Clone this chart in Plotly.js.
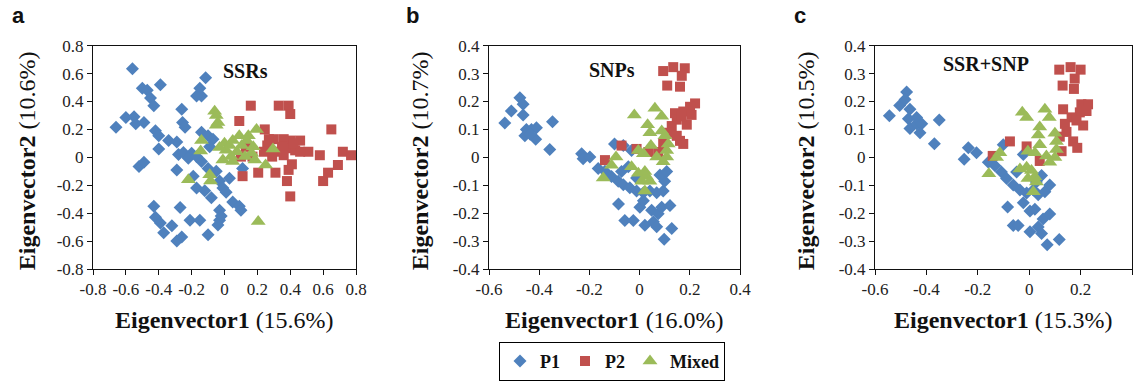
<!DOCTYPE html>
<html><head><meta charset="utf-8">
<script src="https://cdn.plot.ly/plotly-3.0.1.min.js"></script>
<style>html,body{margin:0;padding:0;background:#fff}#chart{width:1143px;height:381px}</style>
</head><body><div id="chart"></div>
<script>
// ---------- Data ----------
const seriesNames = ["P1", "P2", "Mixed"];
const panelTitles = ["SSRs", "SNPs", "SSR+SNP"];
const panelLetters = ["a", "b", "c"];
const xTitlePct = ["(15.6%)", "(16.0%)", "(15.3%)"];
const yTitlePct = ["(10.6%)", "(10.7%)", "(10.5%)"];

// Panel a (SSRs)
const ssrP1x = [-0.56,-0.66,-0.60,-0.55,-0.54,-0.49,-0.50,-0.47,-0.45,-0.43,-0.39,-0.42,-0.40,-0.40,-0.34,-0.52,-0.49,-0.29,-0.28,-0.25,-0.29,-0.26,-0.255,-0.24,-0.20,-0.22,-0.15,-0.14,-0.115,-0.17,-0.14,-0.10,-0.07,-0.09,-0.17,-0.14,-0.10,-0.05,-0.03,-0.01,0.01,0.03,0.05,0.09,0.10,-0.17,-0.12,-0.08,-0.19,0.11,-0.43,-0.42,-0.39,-0.37,-0.32,-0.27,-0.29,-0.26,-0.21,-0.15,-0.10,-0.03,-0.03,-0.02,-0.04];
const ssrP1y = [0.635,0.215,0.285,0.29,0.24,0.25,0.495,0.48,0.425,0.37,0.52,0.19,0.155,0.06,0.12,-0.065,-0.035,0.11,0.02,0.035,-0.09,0.345,0.25,0.215,0.03,-0.007,0.495,0.44,0.57,0.44,0.18,0.155,0.13,0.075,0.005,-0.03,-0.08,-0.10,-0.17,-0.22,-0.25,-0.15,-0.32,-0.35,-0.38,-0.22,-0.24,-0.29,-0.135,-0.08,-0.35,-0.43,-0.47,-0.54,-0.49,-0.36,-0.60,-0.57,-0.45,-0.45,-0.555,-0.38,-0.45,-0.42,-0.485];
const ssrP2x = [0.09,0.16,0.33,0.39,0.40,0.245,0.13,0.11,0.205,0.31,0.39,0.41,0.38,0.40,0.60,0.63,0.69,0.65,0.58,0.51,0.72,0.77,0.46,0.40,0.36,0.30,0.26,0.24,0.33,0.38,0.43,0.46,0.27,0.10,0.17,0.35,0.42,0.29,0.36];
const ssrP2y = [0.26,0.37,0.37,0.37,0.31,0.20,0.075,-0.135,-0.11,-0.11,-0.09,-0.05,-0.17,-0.28,-0.17,-0.11,-0.055,0.20,0.015,0.04,0.04,0.015,0.12,0.12,0.13,0.13,0.085,0.04,0.04,0.065,0.05,0.04,0.13,0.005,0.005,0.075,0.10,0.005,0.015];
const ssrMxx = [-0.06,-0.05,-0.04,-0.05,-0.14,-0.145,-0.22,-0.09,-0.085,0.195,0.295,0.25,0.205,0.0,0.03,0.05,0.09,0.145,0.135,0.175,0.165,0.185,0.105,0.075,0.04,-0.01,0.01,-0.03,0.05,0.125];
const ssrMxy = [0.33,0.30,0.25,0.23,0.12,0.045,-0.16,-0.125,-0.17,0.20,0.06,-0.055,-0.46,0.10,0.085,0.12,0.155,0.155,0.12,0.075,0.03,-0.02,0.085,0.04,0.005,-0.02,0.05,0.07,-0.03,0.005];

// Panel b (SNPs)
const snpP1x = [-0.537,-0.511,-0.477,-0.464,-0.464,-0.451,-0.457,-0.431,-0.411,-0.414,-0.436,-0.347,-0.358,-0.231,-0.225,-0.198,-0.10,-0.065,-0.165,-0.138,-0.112,-0.085,-0.065,-0.039,-0.012,0.015,0.041,0.068,0.094,0.10,0.081,0.108,-0.084,-0.059,-0.025,0.001,0.021,0.055,0.068,0.048,0.074,0.088,0.121,0.128,0.098,0.015,-0.012,-0.032,-0.072,-0.045];
const snpP1y = [0.123,0.166,0.213,0.19,0.152,0.10,0.077,0.10,0.106,0.065,0.083,0.127,0.028,0.013,-0.005,0.001,0.048,0.042,-0.04,-0.05,-0.069,-0.086,-0.098,-0.109,-0.121,-0.127,-0.121,-0.127,-0.121,-0.086,-0.063,-0.051,-0.167,-0.226,-0.226,-0.179,-0.243,-0.231,-0.249,-0.19,-0.202,-0.179,-0.173,-0.255,-0.293,-0.156,-0.074,0.024,-0.051,-0.034];
const snpP2x = [0.094,0.134,0.18,0.168,0.11,0.161,0.221,0.201,0.174,0.141,0.148,0.188,0.128,0.114,0.161,0.174,-0.072,-0.138,-0.012,0.035,0.074,0.148,0.168,0.207,0.094];
const snpP2y = [0.309,0.323,0.319,0.292,0.257,0.253,0.193,0.181,0.164,0.158,0.135,0.117,0.112,0.088,0.059,0.048,0.042,-0.01,0.03,0.019,0.019,0.077,0.147,0.152,0.048];
const snpMxx = [-0.021,0.061,0.088,0.032,0.041,0.088,0.101,0.114,0.108,0.108,0.045,-0.005,0.015,0.068,0.094,-0.094,-0.112,-0.145,-0.032,-0.005,0.028,0.008,0.041,0.021,0.021];
const snpMxy = [0.152,0.176,0.147,0.117,0.088,0.094,0.077,0.048,0.024,0.001,0.042,0.024,0.013,0.001,-0.016,0.001,-0.028,-0.074,-0.034,-0.057,-0.069,-0.086,-0.086,-0.121,-0.051];

// Panel c (SSR+SNP)
const allP1x = [-0.544,-0.504,-0.477,-0.483,-0.464,-0.47,-0.464,-0.438,-0.438,-0.418,-0.425,-0.35,-0.369,-0.237,-0.253,-0.205,-0.159,-0.133,-0.108,-0.088,-0.062,-0.036,-0.01,0.016,0.035,0.061,0.08,0.048,-0.101,-0.023,-0.084,-0.062,-0.043,-0.023,0.003,0.022,0.003,0.035,0.048,0.054,0.08,0.07,0.117,0.028,-0.049];
const allP1y = [0.149,0.186,0.234,0.207,0.172,0.138,0.103,0.12,0.143,0.12,0.088,0.134,0.049,0.034,-0.007,0.016,-0.018,-0.03,-0.053,-0.076,-0.099,-0.117,-0.128,-0.117,-0.134,-0.123,-0.099,-0.065,0.045,0.01,-0.178,-0.244,-0.244,-0.163,-0.192,-0.186,-0.267,-0.25,-0.273,-0.221,-0.203,-0.313,-0.294,-0.088,-0.053];
const allP2x = [0.117,0.161,0.2,0.177,0.13,0.174,0.203,0.229,0.197,0.165,0.139,0.132,0.21,0.145,0.171,0.187,-0.075,-0.142,-0.01,0.126,0.041,0.223,0.184,0.119];
const allP2y = [0.314,0.323,0.314,0.282,0.257,0.245,0.19,0.19,0.161,0.143,0.12,0.172,0.114,0.091,0.057,0.034,0.057,0.005,0.039,0.022,-0.013,0.166,0.132,0.074];
const allMxx = [-0.027,-0.01,0.061,0.078,0.041,0.035,0.1,0.106,0.106,0.1,0.041,-0.005,0.022,0.067,0.08,-0.114,-0.127,-0.157,-0.036,-0.01,-0.005,0.022,0.028,0.016,0.009];
const allMxy = [0.161,0.143,0.172,0.143,0.109,0.08,0.086,0.057,0.028,-0.001,0.045,0.022,0.016,0.005,-0.018,0.016,-0.001,-0.059,-0.042,-0.036,-0.076,-0.07,-0.088,-0.123,-0.047];

// Tick labels
const ticksA = [-0.8,-0.6,-0.4,-0.2,0,0.2,0.4,0.6,0.8];
const ticksA_txt = ["-0.8","-0.6","-0.4","-0.2","0","0.2","0.4","0.6","0.8"];
const ticksBX = [-0.6,-0.4,-0.2,0,0.2,0.4];
const ticksBX_txt = ["-0.6","-0.4","-0.2","0","0.2","0.4"];
const ticksBY = [-0.4,-0.3,-0.2,-0.1,0,0.1,0.2,0.3,0.4];
const ticksBY_txt = ["-0.4","-0.3","-0.2","-0.1","0","0.1","0.2","0.3","0.4"];

// ---------- Styling ----------
const W = 1143, H = 381;
const colors = ["#4F81BD", "#C0504D", "#9BBB59"];
const symbols = ["diamond", "square", "triangle-up"];
const sizes = [10, 10, 13];
const serif = "Liberation Serif";

const panels = [
  {P: [[ssrP1x, ssrP1y], [ssrP2x, ssrP2y], [ssrMxx, ssrMxy]], xr: [-0.8, 0.8], yr: [-0.8, 0.8], xt: [ticksA, ticksA_txt], yt: [ticksA, ticksA_txt], px: [93, 356], ytx: 27, ttl: [245, 73], let: 18},
  {P: [[snpP1x, snpP1y], [snpP2x, snpP2y], [snpMxx, snpMxy]], xr: [-0.6, 0.4], yr: [-0.4, 0.4], xt: [ticksBX, ticksBX_txt], yt: [ticksBY, ticksBY_txt], px: [489, 740], ytx: 420, ttl: [612, 72], let: 412},
  {P: [[allP1x, allP1y], [allP2x, allP2y], [allMxx, allMxy]], xr: [-0.6, 0.4], yr: [-0.4, 0.4], xt: [ticksBX, ticksBX_txt], yt: [ticksBY, ticksBY_txt], px: [875, 1132], ytx: 806, ttl: [986, 66], let: 800}
];

function tickFont() { return {family: serif, size: 17, color: "#222"}; }
function makeAxis(extra) {
  return Object.assign({
    showgrid: false, zeroline: false, showline: true, linecolor: "#111", linewidth: 1,
    mirror: true, ticks: "outside", ticklen: 5, tickcolor: "#111",
    tickfont: tickFont(), fixedrange: true
  }, extra);
}

const plotTop = 47, plotBot = 277;
const yDom = [1 - plotBot / H, 1 - plotTop / H];
const traces = [];
const layout = {
  width: W, height: H,
  margin: {l: 0, r: 0, t: 0, b: 0},
  font: {family: serif, size: 17, color: "#222"},
  paper_bgcolor: "#fff", plot_bgcolor: "#fff",
  showlegend: true,
  legend: {orientation: "h", x: 612 / W, xanchor: "center", y: 1 - 352 / H, yanchor: "top",
           bordercolor: "#000", borderwidth: 1, bgcolor: "#fff",
           font: {family: serif, size: 18, color: "#111", weight: "bold"},
           itemwidth: 30, tracegroupgap: 0, traceorder: "normal"},
  annotations: []
};

panels.forEach((p, i) => {
  const xa = i === 0 ? "x" : "x" + (i + 1);
  const ya = i === 0 ? "y" : "y" + (i + 1);
  p.P.forEach((s, k) => {
    traces.push({
      type: "scatter", mode: "markers", x: s[0], y: s[1], xaxis: xa, yaxis: ya,
      name: seriesNames[k], showlegend: i === 0, legendgroup: seriesNames[k],
      marker: {color: colors[k], symbol: symbols[k], size: sizes[k], line: {width: 0}},
      cliponaxis: false
    });
  });
  const xk = i === 0 ? "xaxis" : "xaxis" + (i + 1);
  const yk = i === 0 ? "yaxis" : "yaxis" + (i + 1);
  layout[xk] = makeAxis({
    domain: [p.px[0] / W, p.px[1] / W], range: p.xr, anchor: ya,
    tickmode: "array", tickvals: p.xt[0], ticktext: p.xt[1]});
  layout[yk] = makeAxis({
    domain: yDom, range: p.yr, anchor: xa,
    tickmode: "array", tickvals: p.yt[0], ticktext: p.yt[1]});
  layout.annotations.push({xref: "paper", yref: "paper", x: (p.px[0] + p.px[1]) / 2 / W, y: 1 - 329 / H,
    xanchor: "center", yanchor: "middle", showarrow: false,
    text: "<b>Eigenvector1</b> " + xTitlePct[i], font: {family: serif, size: 24, color: "#111"}});
  layout.annotations.push({xref: "paper", yref: "paper", x: p.ytx / W, y: 1 - 166 / H,
    xanchor: "center", yanchor: "middle", showarrow: false, textangle: -90,
    text: "<b>Eigenvector2</b> " + yTitlePct[i], font: {family: serif, size: 24, color: "#111"}});
  layout.annotations.push({xref: "paper", yref: "paper", x: p.ttl[0] / W, y: 1 - p.ttl[1] / H,
    xanchor: "center", yanchor: "middle", showarrow: false,
    text: "<b>" + panelTitles[i] + "</b>", font: {family: serif, size: 20, color: "#111"}});
  layout.annotations.push({xref: "paper", yref: "paper", x: p.let / W, y: 1 - 16 / H,
    xanchor: "center", yanchor: "middle", showarrow: false,
    text: "<b>" + panelLetters[i] + "</b>", font: {family: "Liberation Sans", size: 22, color: "#111"}});
});

Plotly.newPlot("chart", traces, layout, {displayModeBar: false, staticPlot: true}).then(() => {
  // make sure tick labels use the serif face at the intended size
  document.querySelectorAll(".xaxislayer-above text, .yaxislayer-above text").forEach(t => {
    t.style.fontFamily = '"Liberation Serif", serif';
    t.style.fontSize = "17px";
    t.style.fill = "#222";
  });
});
</script></body></html>
